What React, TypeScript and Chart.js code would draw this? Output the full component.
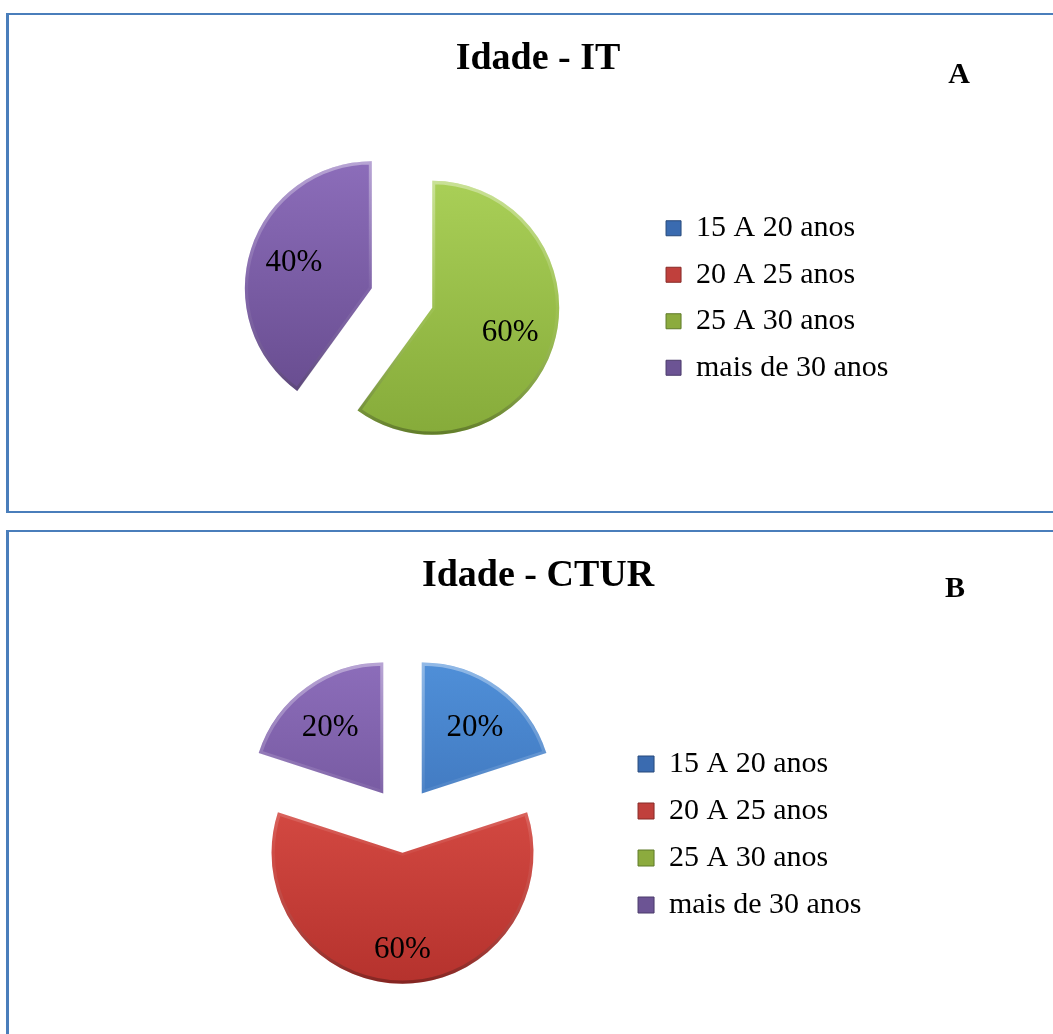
import React, { useEffect, useRef } from "react";
import { Chart, registerables } from "chart.js";

Chart.register(...registerables);

// ---- data ----
const categories = ["15 A 20 anos", "20 A 25 anos", "25 A 30 anos", "mais de 30 anos"];
const itValues = [0, 0, 60, 40];
const cturValues = [20, 60, 0, 20];
const itTitle = "Idade - IT";
const cturTitle = "Idade - CTUR";
const itLetter = "A";
const cturLetter = "B";

// ---- styles ----
const SERIF = '"Liberation Serif", "Times New Roman", Times, serif';
const sliceLight = ["#4f8fd8", "#e2544c", "#a9cf57", "#8c6dba"];
const sliceDark = ["#3668ad", "#b5322d", "#86ab3a", "#654a8c"];
const legendFill = ["#3a6bb0", "#c0403c", "#8cab3e", "#6c5494"];
const legendStroke = ["#27497a", "#872a27", "#5f7a28", "#4a3a6a"];

const explodePlugin = {
  id: "explode",
  beforeDatasetDraw(chart: any, args: any, opts: any) {
    const ctx = chart.ctx;
    const frac = opts.fraction ?? 0.25;
    args.meta.data.forEach((arc: any) => {
      const { startAngle, endAngle, outerRadius, y } = arc;
      if (!(endAngle - startAngle > 0)) return;
      const mid = (startAngle + endAngle) / 2;
      const d = outerRadius * frac;
      ctx.save();
      ctx.translate(Math.cos(mid) * d, Math.sin(mid) * d);
      arc.draw(ctx);
      // bevel-like rim
      const g = ctx.createLinearGradient(0, y - outerRadius, 0, y + outerRadius);
      g.addColorStop(0, "rgba(255,255,255,0.38)");
      g.addColorStop(0.5, "rgba(255,255,255,0.05)");
      g.addColorStop(1, "rgba(0,0,0,0.28)");
      const bevel = Object.create(arc);
      bevel.options = {
        ...arc.options,
        backgroundColor: "rgba(0,0,0,0)",
        borderWidth: 3,
        borderColor: g,
        borderAlign: "inner",
      };
      bevel.draw(ctx);
      ctx.restore();
    });
    return false;
  },
};

const labelPlugin = {
  id: "pctLabels",
  afterDatasetsDraw(chart: any, _args: any, opts: any) {
    const ctx = chart.ctx;
    const meta = chart.getDatasetMeta(0);
    const data: number[] = chart.data.datasets[0].data;
    const total = data.reduce((a, b) => a + b, 0);
    ctx.save();
    ctx.font = `${opts.size}px ${SERIF}`;
    ctx.fillStyle = "#000";
    ctx.textAlign = "center";
    ctx.textBaseline = "middle";
    meta.data.forEach((arc: any, i: number) => {
      const v = data[i];
      if (!v) return;
      const mid = (arc.startAngle + arc.endAngle) / 2;
      const r = arc.outerRadius * (opts.explode + opts.pos);
      ctx.fillText(
        Math.round((v / total) * 100) + "%",
        arc.x + Math.cos(mid) * r,
        arc.y + Math.sin(mid) * r + (opts.shiftY || 0)
      );
    });
    ctx.restore();
  },
};

const panelTextPlugin = {
  id: "panelText",
  afterDraw(chart: any, _args: any, opts: any) {
    const ctx = chart.ctx;
    ctx.save();
    ctx.fillStyle = "#000";
    ctx.textAlign = "center";
    ctx.textBaseline = "middle";
    ctx.font = `bold ${opts.titleSize}px ${SERIF}`;
    ctx.fillText(opts.title, opts.titleX, opts.titleY);
    ctx.font = `bold ${opts.letterSize}px ${SERIF}`;
    ctx.fillText(opts.letter, opts.letterX, opts.letterY);
    ctx.restore();
  },
};

type PieCfg = {
  values: number[];
  title: string;
  letter: string;
  width: number;
  height: number;
  radius: number;
  pad: { left: number; right: number; top: number; bottom: number };
  legendPad: number;
  box: number;
  legendTitleH: number;
  labelPos: number;
  labelShiftY: number;
  titleX: number;
  titleY: number;
  letterX: number;
  letterY: number;
};

function PieChart(props: PieCfg) {
  const ref = useRef<HTMLCanvasElement>(null);
  useEffect(() => {
    if (!ref.current) return;
    const R = props.radius;
    const baseGen =
      (Chart.overrides as any).pie?.plugins?.legend?.labels?.generateLabels ||
      (Chart.overrides as any).doughnut.plugins.legend.labels.generateLabels;
    const tPad = Math.max(0, props.legendTitleH - 1.2) / 2;
    const chart = new Chart(ref.current, {
      type: "pie",
      data: {
        labels: categories,
        datasets: [
          {
            data: props.values,
            radius: R,
            borderWidth: 0,
            offset: 0,
            hoverOffset: 0,
            backgroundColor: (c: any) => {
              const area = c.chart.chartArea;
              const i = c.dataIndex;
              if (!area) return sliceLight[i];
              const cy = (area.top + area.bottom) / 2;
              const g = c.chart.ctx.createLinearGradient(0, cy - R, 0, cy + R);
              g.addColorStop(0, sliceLight[i]);
              g.addColorStop(1, sliceDark[i]);
              return g;
            },
          } as any,
        ],
      },
      options: {
        animation: false,
        responsive: false,
        events: [],
        layout: { padding: props.pad },
        plugins: {
          tooltip: { enabled: false },
          title: { display: false },
          legend: {
            position: "right",
            align: "center",
            title: {
              display: props.legendTitleH > 0,
              text: " ",
              font: { size: 1 },
              padding: { top: tPad, bottom: tPad },
            },
            labels: {
              boxWidth: props.box,
              boxHeight: props.box,
              padding: props.legendPad,
              color: "#000",
              font: { family: SERIF, size: 30 },
              generateLabels: (ch: any) =>
                baseGen(ch).map((it: any, i: number) => ({
                  ...it,
                  fillStyle: legendFill[i],
                  strokeStyle: legendStroke[i],
                  lineWidth: 1,
                  hidden: false,
                })),
            },
          },
          explode: { fraction: 0.25 },
          pctLabels: { explode: 0.25, pos: props.labelPos, shiftY: props.labelShiftY, size: 31 },
          panelText: {
            title: props.title,
            titleSize: 38,
            titleX: props.titleX,
            titleY: props.titleY,
            letter: props.letter,
            letterSize: 30,
            letterX: props.letterX,
            letterY: props.letterY,
          },
        } as any,
      },
      plugins: [explodePlugin, labelPlugin, panelTextPlugin],
    });
    return () => chart.destroy();
  }, []);
  return <canvas ref={ref} width={props.width} height={props.height} style={{ display: "block", position: "absolute", left: 0, top: 0 }} />;
}

const BORDER = "#4a7ebb";

export default function App() {
  const panelBase: React.CSSProperties = {
    position: "absolute",
    left: 6,
    width: 1100,
    boxSizing: "border-box",
    borderTop: `2px solid ${BORDER}`,
    borderBottom: `2px solid ${BORDER}`,
    borderLeft: `3px solid ${BORDER}`,
    borderRight: `2px solid ${BORDER}`,
    background: "#fff",
  };
  return (
    <div style={{ position: "absolute", left: 0, top: 0, width: 1053, height: 1034, overflow: "hidden", background: "#fff" }}>
      <div style={{ ...panelBase, top: 13, height: 500 }}>
        <PieChart
          values={itValues}
          title={itTitle}
          letter={itLetter}
          width={1044}
          height={496}
          radius={127}
          pad={{ left: 145.5, right: 154.5, top: 70, bottom: 0 }}
          legendPad={16.5}
          box={15}
          legendTitleH={0}
          labelPos={0.645}
          labelShiftY={0}
          titleX={529}
          titleY={44}
          letterX={950}
          letterY={60}
        />
      </div>
      <div style={{ ...panelBase, top: 530, height: 600 }}>
        <PieChart
          values={cturValues}
          title={cturTitle}
          letter={cturLetter}
          width={1044}
          height={502}
          radius={131}
          pad={{ left: 175, right: 181.5, top: 74, bottom: 0 }}
          legendPad={17}
          box={16}
          legendTitleH={29}
          labelPos={0.69}
          labelShiftY={7}
          titleX={529}
          titleY={44}
          letterX={946}
          letterY={57}
        />
      </div>
    </div>
  );
}
